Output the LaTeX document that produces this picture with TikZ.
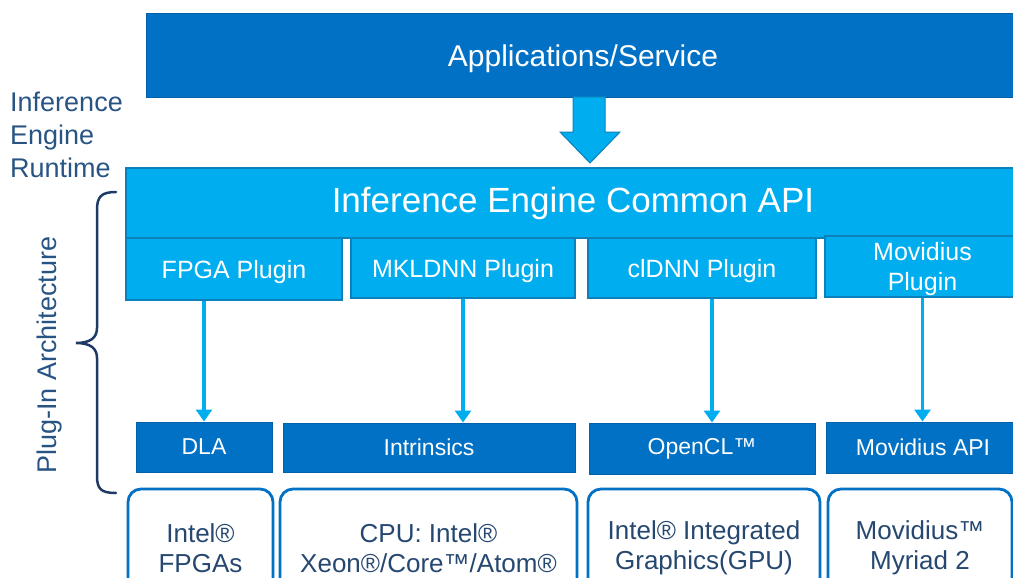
\documentclass[tikz,border=0pt]{standalone}
\usepackage{fontspec}
\setmainfont{Liberation Sans}
\usetikzlibrary{positioning}
\usetikzlibrary{shapes,arrows,arrows.meta}
\definecolor{inteldark}{RGB}{0,113,197}
\definecolor{intellight}{RGB}{0,174,239}
\definecolor{lightedge}{RGB}{12,128,186}
\definecolor{darkedge}{RGB}{0,96,170}
\definecolor{navy}{RGB}{31,58,102}
\definecolor{labelblue}{RGB}{40,84,132}
\definecolor{hwtext}{RGB}{38,72,112}

\begin{document}
\begin{tikzpicture}[x=1pt,y=-1pt,
  darkbox/.style={draw=darkedge,line width=1pt,fill=inteldark,text=white,inner sep=0pt,align=center},
  lightbox/.style={draw=lightedge,line width=1.2pt,fill=intellight,text=white,inner sep=0pt,align=center},
  hwbox/.style={draw=inteldark,line width=2.8pt,rounded corners=13pt,fill=white,text=hwtext,inner sep=0pt,align=center,font=\fontsize{26}{30}\selectfont},
  pluginfont/.style={font=\fontsize{25}{30}\selectfont,text depth=0pt},
  apifont/.style={font=\fontsize{23}{28}\selectfont},
  flow/.style={draw=intellight,line width=3.5pt,-{Triangle[width=16pt,length=12pt]}},
  bigarrow/.style={fill=intellight,draw=lightedge,line width=1pt},
  bracket/.style={draw=navy,line width=2.5pt,line cap=round}]
  \useasboundingbox (0,0) rectangle (1013,578);
  \clip (0,0) rectangle (1013,578);

  \node(app) [darkbox, minimum width=874pt, minimum height=84pt, text depth=0pt, font=\fontsize{30}{36}\selectfont] at (583,56) {Applications/Service};
  \node(api) [lightbox, minimum width=894pt, minimum height=70pt, font=\fontsize{35}{42}\selectfont] at (573,203) {Inference Engine Common API};

  \node(fpga) [lightbox, pluginfont, minimum width=216pt, minimum height=62pt] at (234,269) {FPGA Plugin};
  \node(mkldnn) [lightbox, pluginfont, minimum width=224pt, minimum height=60pt] at (463,268) {MKLDNN Plugin};
  \node(cldnn) [lightbox, pluginfont, minimum width=228pt, minimum height=60pt] at (702,268) {clDNN Plugin};
  \node(movplugin) [lightbox, pluginfont, minimum width=195pt, minimum height=61pt] at (922.5,266.5) {Movidius\\Plugin};

  \node(dla) [darkbox, apifont, minimum width=136pt, minimum height=50pt] at (204,447) {DLA};
  \node(intrinsics) [darkbox, apifont, minimum width=292pt, minimum height=49pt] at (429,447.5) {Intrinsics};
  \node(opencl) [darkbox, apifont, minimum width=226pt, minimum height=51pt] at (702,448.5) {OpenCL™};
  \node(movapi) [darkbox, apifont, minimum width=194pt, minimum height=51pt] at (923,447.5) {Movidius API};

  \node(fpgahw) [hwbox, minimum width=145pt, minimum height=118pt] at (200.5,548) {Intel®\\FPGAs};
  \node(cpuhw) [hwbox, minimum width=297pt, minimum height=118pt] at (428.5,548) {CPU: Intel®\\Xeon®/Core™/Atom®};
  \node(gpuhw) [hwbox, minimum width=232pt, minimum height=118pt] at (704,548) {Intel® Integrated\\Graphics(GPU)};
  \node(movhw) [hwbox, minimum width=184pt, minimum height=118pt] at (920,548) {Movidius™\\Myriad 2};

  \node(runtime) [text=labelblue, anchor=north west, inner sep=0pt, align=left, font=\fontsize{27}{33}\selectfont] at (10,92) {Inference\\Engine\\Runtime};
  \node(arch) [text=labelblue, rotate=90, inner sep=0pt, font=\fontsize{27}{32}\selectfont] at (50,355) {Plug-In Architecture};

  \draw[bigarrow] (573,97) -- (605,97) -- (605,132) -- (620,132) -- (590,163) -- (560,132) -- (573,132) -- cycle;

  \draw[flow] (fpga.south -| dla.north) -- (dla.north);
  \draw[flow] (mkldnn.south) -- (mkldnn.south |- intrinsics.north);
  \draw[flow] ([xshift=10pt]cldnn.south) -- ([xshift=10pt]opencl.north);
  \draw[flow] (movplugin.south) -- (movplugin.south |- movapi.north);

  \draw[bracket] (116,192) .. controls (101,192) and (97,197) .. (97,210) -- (97,328) .. controls (97,338) and (90,343) .. (76,343) .. controls (90,343) and (97,348) .. (97,358) -- (97,476) .. controls (97,489) and (101,493) .. (116,493);
\end{tikzpicture}
\end{document}
